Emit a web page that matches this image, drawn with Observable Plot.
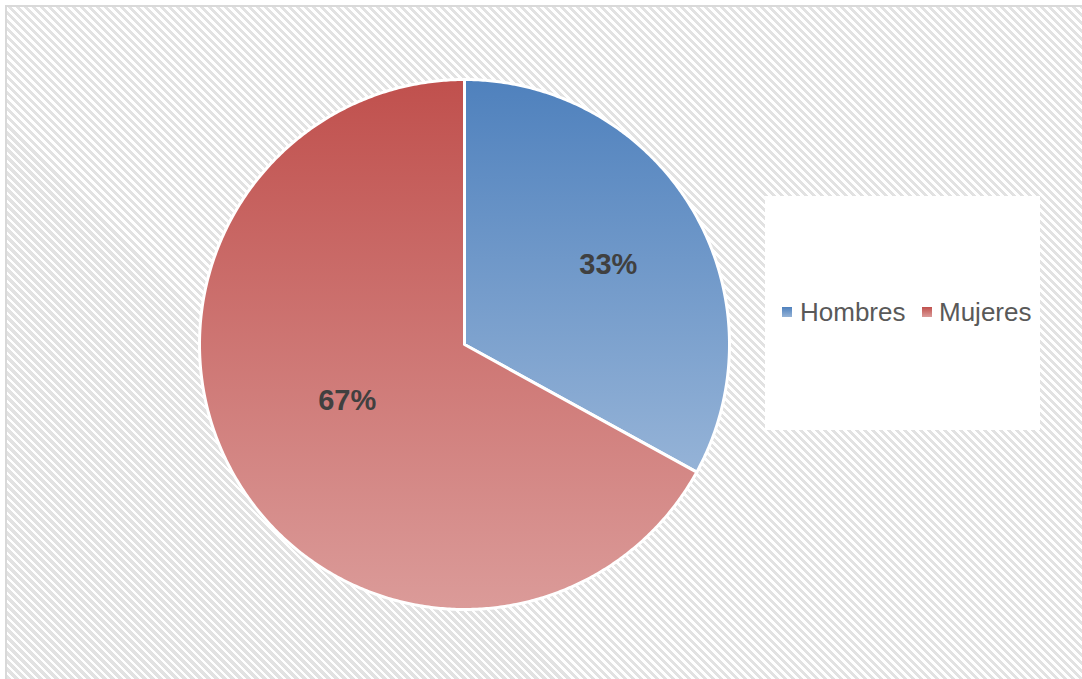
<!DOCTYPE html>
<html>
<head>
<meta charset="utf-8">
<script src="https://cdn.jsdelivr.net/npm/d3@7"></script>
<script src="https://cdn.jsdelivr.net/npm/@observablehq/plot@0.6"></script>
<style>
  html, body { margin: 0; padding: 0; width: 1082px; height: 679px; overflow: hidden; background: #fff; font-family: "Liberation Sans", Arial, sans-serif; }
  #frame {
    position: absolute; left: 5px; top: 5px; width: 1100px; height: 700px;
    border-left: 2px solid #d9d9d9; border-top: 2px solid #d9d9d9;
    background: repeating-linear-gradient(45deg, #ffffff 0px, #ffffff 2.6px, #e2e2e2 2.6px, #e2e2e2 5.66px);
  }
  #legendBox { position: absolute; left: 765px; top: 196px; width: 275px; height: 234px; background: #fff; }
  .item { position: absolute; top: 296px; font-size: 26px; color: #595959; line-height: 32px; white-space: nowrap; }
  .mk { position: absolute; top: 307px; width: 10px; height: 10px; }
  #chart { position: absolute; left: 0; top: 0; }
</style>
</head>
<body>
<div id="frame"></div>
<div id="legendBox"></div>
<div id="legend"></div>
<div id="chart"></div>
<script>
// ---- data ----
const categories = ["Hombres", "Mujeres"];
const values = [33, 67];
const labels = ["33%", "67%"];
const topColors = ["#4f81bd", "#c0504d"];
const bottomColors = ["#95b3d7", "#db9b99"];

// ---- geometry from data ----
const total = d3.sum(values);
const slices = [];
let acc = 0;
categories.forEach((c, i) => {
  const a0 = acc / total * 2 * Math.PI;
  acc += values[i];
  const a1 = acc / total * 2 * Math.PI;
  slices.push({key: c, value: values[i], label: labels[i], a0, a1, i});
});

// outline points of each slice (center + arc)
const outline = [];
for (const s of slices) {
  outline.push({key: s.key, x: 0, y: 0});
  const n = Math.max(2, Math.ceil((s.a1 - s.a0) / (Math.PI / 360)));
  for (let k = 0; k <= n; k++) {
    const a = s.a0 + (s.a1 - s.a0) * k / n;
    outline.push({key: s.key, x: Math.sin(a), y: Math.cos(a)});
  }
}

// label positions (Excel best-fit places them at these fractions of radius)
const labelR = [0.62, 0.49];
const labelAngleShift = [0.03, 0.09];
const labelPts = slices.map(s => {
  const m = (s.a0 + s.a1) / 2 + labelAngleShift[s.i];
  return {text: s.label, x: labelR[s.i] * Math.sin(m), y: labelR[s.i] * Math.cos(m)};
});

const cx = 464, cy = 344, R = 265;

const plot = Plot.plot({
  width: 1082,
  height: 679,
  margin: 0,
  style: "background: transparent; overflow: visible;",
  x: {domain: [-1, 1], range: [cx - R, cx + R], axis: null},
  y: {domain: [-1, 1], range: [cy + R, cy - R], axis: null},
  color: {type: "ordinal", domain: categories, range: categories.map((c, i) => `url(#grad${i})`)},
  marks: [
    Plot.line(outline, {
      x: "x", y: "y", z: "key", fill: "key",
      stroke: "white", strokeWidth: 3, strokeLinejoin: "round",
      curve: "linear-closed"
    }),
    Plot.text(labelPts, {
      x: "x", y: "y", text: "text",
      fontSize: 29, fontWeight: "bold", fill: "#404040",
      fontFamily: "Liberation Sans, Arial, sans-serif"
    })
  ]
});

// gradients
const defs = document.createElementNS("http://www.w3.org/2000/svg", "defs");
defs.innerHTML = categories.map((c, i) =>
  `<linearGradient id="grad${i}" x1="0" y1="0" x2="0" y2="1">
     <stop offset="0" stop-color="${topColors[i]}"/>
     <stop offset="1" stop-color="${bottomColors[i]}"/>
   </linearGradient>`).join("");
plot.insertBefore(defs, plot.firstChild);
document.getElementById("chart").appendChild(plot);

// legend
const legendPos = [{mk: 782, tx: 800}, {mk: 922, tx: 939}];
const lg = document.getElementById("legend");
categories.forEach((c, i) => {
  const m = document.createElement("div");
  m.className = "mk";
  m.style.left = legendPos[i].mk + "px";
  m.style.background = `linear-gradient(${topColors[i]}, ${bottomColors[i]})`;
  lg.appendChild(m);
  const t = document.createElement("div");
  t.className = "item";
  t.style.left = legendPos[i].tx + "px";
  t.textContent = c;
  lg.appendChild(t);
});
</script>
</body>
</html>
